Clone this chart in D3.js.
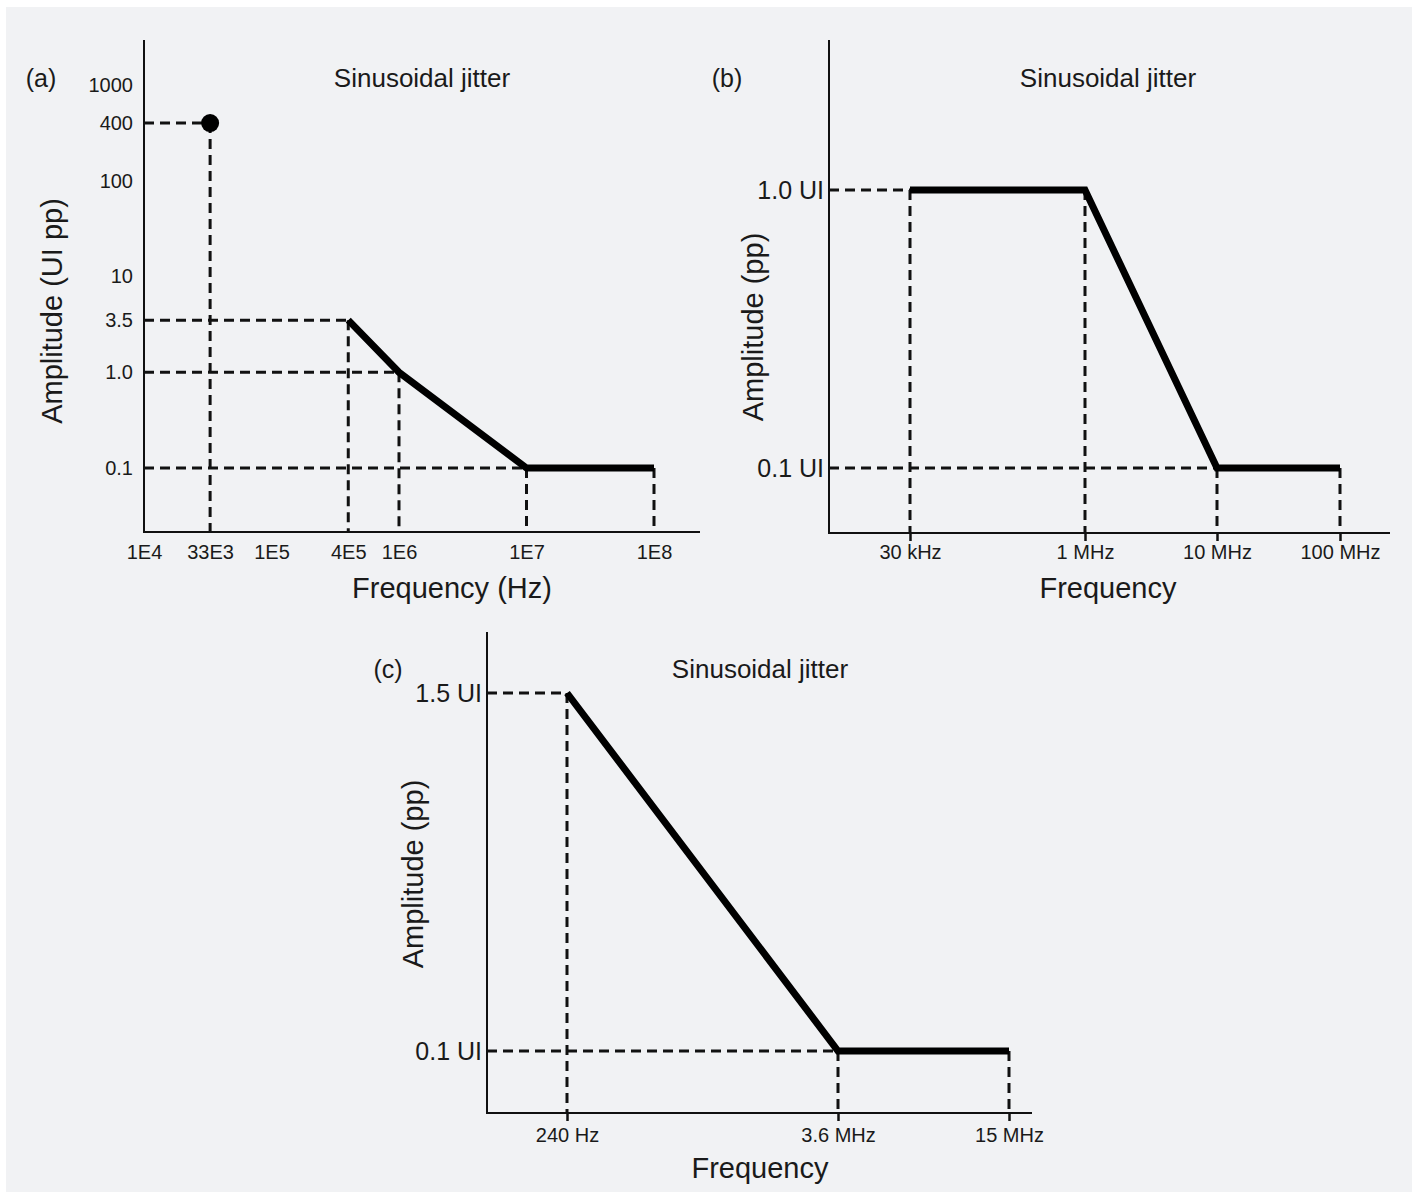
<!doctype html>
<html lang="en">

<head>
    <meta charset="utf-8">
    <title>Sinusoidal jitter</title>
    <style>
        body {
            margin: 0;
            background-color: #fff;
        }

        svg {
            display: block;
            font-family: 'Liberation Sans', Arial, sans-serif;
        }
    </style>
</head>

<body>
    <svg id="chart" width="1412" height="1192"></svg>
    <script src="https://cdn.jsdelivr.net/npm/d3@7"></script>
    <script>

        // (a) amplitude in UI pp vs frequency in Hz
        var aFreqTicks = [1e4, 3.3e4, 1e5, 4e5, 1e6, 1e7, 1e8];
        var aFreqLabels = ["1E4", "33E3", "1E5", "4E5", "1E6", "1E7", "1E8"];
        var aAmpTicks = [1000, 400, 100, 10, 3.5, 1.0, 0.1];
        var aAmpLabels = ["1000", "400", "100", "10", "3.5", "1.0", "0.1"];
        var aMaskFreq = [4e5, 1e6, 1e7, 1e8];
        var aMaskAmp = [3.5, 1.0, 0.1, 0.1];
        var aPointFreq = [3.3e4];
        var aPointAmp = [400];

        // (b)
        var bFreqTicks = [3e4, 1e6, 1e7, 1e8];
        var bFreqLabels = ["30 kHz", "1 MHz", "10 MHz", "100 MHz"];
        var bAmpTicks = [1.0, 0.1];
        var bAmpLabels = ["1.0 UI", "0.1 UI"];
        var bMaskFreq = [3e4, 1e6, 1e7, 1e8];
        var bMaskAmp = [1.0, 1.0, 0.1, 0.1];

        // (c)
        var cFreqTicks = [240, 3.6e6, 15e6];
        var cFreqLabels = ["240 Hz", "3.6 MHz", "15 MHz"];
        var cAmpTicks = [1.5, 0.1];
        var cAmpLabels = ["1.5 UI", "0.1 UI"];
        var cMaskFreq = [240, 3.6e6, 15e6];
        var cMaskAmp = [1.5, 0.1, 0.1];

        var ink = "#111";
        var textColor = "#1a1a1a";
        var dash = "10,6";

        var svg = d3.select("#chart");

        svg.append("rect")
            .attr("x", 6)
            .attr("y", 7)
            .attr("width", 1412)
            .attr("height", 1192)
            .attr("fill", "#f1f2f4");

        function guide(g, x1, y1, x2, y2) {
            g.append("line")
                .attr("x1", x1).attr("y1", y1)
                .attr("x2", x2).attr("y2", y2)
                .attr("stroke", ink).attr("stroke-width", 3)
                .attr("stroke-dasharray", dash);
        }

        function drawPanel(p) {
            var g = svg.append("g");

            // dashed guides
            var seen = {};
            p.maskFreq.forEach(function (f, i) {
                var a = p.maskAmp[i];
                if (!seen[a]) {
                    seen[a] = true;
                    guide(g, p.left, p.y(a), p.x(f), p.y(a));
                }
                guide(g, p.x(f), p.y(a), p.x(f), p.bottom);
            });

            if (p.pointFreq) {
                p.pointFreq.forEach(function (f, i) {
                    var a = p.pointAmp[i];
                    guide(g, p.left, p.y(a), p.x(f), p.y(a));
                    guide(g, p.x(f), p.y(a), p.x(f), p.bottom);
                    g.append("circle")
                        .attr("cx", p.x(f)).attr("cy", p.y(a))
                        .attr("r", 9)
                        .attr("fill", "#000");
                });
            }

            // mask line
            var pts = p.maskFreq.map(function (f, i) { return [f, p.maskAmp[i]]; });
            var line = d3.line()
                .x(function (d) { return p.x(d[0]); })
                .y(function (d) { return p.y(d[1]); });
            g.append("path")
                .datum(pts)
                .attr("fill", "none")
                .attr("stroke", "#000")
                .attr("stroke-width", 7)
                .attr("stroke-linejoin", "miter")
                .attr("d", line);

            // axes
            g.append("line")
                .attr("x1", p.left).attr("x2", p.left)
                .attr("y1", p.top).attr("y2", p.bottom)
                .attr("stroke", ink).attr("stroke-width", 2);
            g.append("line")
                .attr("x1", p.left - 1).attr("x2", p.right)
                .attr("y1", p.bottom).attr("y2", p.bottom)
                .attr("stroke", ink).attr("stroke-width", 2);

            var xAxis = g.append("g")
                .attr("transform", "translate(0," + p.bottom + ")")
                .call(d3.axisBottom(p.x)
                    .tickValues(p.freqTicks)
                    .tickFormat(function (d, i) { return p.freqLabels[i]; })
                    .tickSize(p.tickLen)
                    .tickPadding(p.xPad));
            xAxis.select(".domain").remove();
            xAxis.attr("font-size", p.xFont).attr("font-family", null);
            xAxis.selectAll("line").attr("stroke", ink).attr("stroke-width", 2.5);
            xAxis.selectAll("text").attr("fill", textColor);

            var yAxis = g.append("g")
                .attr("transform", "translate(" + p.left + ",0)")
                .call(d3.axisLeft(p.y)
                    .tickValues(p.ampTicks)
                    .tickFormat(function (d, i) { return p.ampLabels[i]; })
                    .tickSize(0)
                    .tickPadding(p.yPad));
            yAxis.select(".domain").remove();
            yAxis.attr("font-size", p.yFont).attr("font-family", null);
            yAxis.selectAll("text").attr("fill", textColor);

            // texts
            g.append("text")
                .attr("x", p.titleX).attr("y", p.titleY)
                .attr("text-anchor", "middle")
                .attr("font-size", 26)
                .attr("fill", textColor)
                .text("Sinusoidal jitter");
            g.append("text")
                .attr("x", p.tagX).attr("y", p.titleY)
                .attr("text-anchor", "middle")
                .attr("font-size", 25)
                .attr("fill", textColor)
                .text(p.tag);
            g.append("text")
                .attr("transform", "translate(" + p.yTitleX + "," + p.yTitleY + ") rotate(-90)")
                .attr("text-anchor", "middle")
                .attr("font-size", 29)
                .attr("fill", textColor)
                .text(p.yTitle);
            g.append("text")
                .attr("x", p.xTitleX).attr("y", p.xTitleY)
                .attr("text-anchor", "middle")
                .attr("font-size", 29)
                .attr("fill", textColor)
                .text(p.xTitle);
        }

        drawPanel({
            left: 144, right: 700, top: 40, bottom: 532,
            x: d3.scaleLog().domain([1e4, 1e8]).range([144, 654]),
            y: d3.scaleLog().domain([0.1, 1000]).range([468, 85]),
            freqTicks: aFreqTicks, freqLabels: aFreqLabels,
            ampTicks: aAmpTicks, ampLabels: aAmpLabels,
            maskFreq: aMaskFreq, maskAmp: aMaskAmp,
            pointFreq: aPointFreq, pointAmp: aPointAmp,
            tickLen: 0, xPad: 13, xFont: 20, yPad: 11, yFont: 20,
            tag: "(a)", tagX: 41, titleX: 422, titleY: 87,
            yTitle: "Amplitude (UI pp)", yTitleX: 62, yTitleY: 311,
            xTitle: "Frequency (Hz)", xTitleX: 452, xTitleY: 598
        });

        drawPanel({
            left: 829, right: 1390, top: 40, bottom: 533,
            x: d3.scaleLog().domain(bFreqTicks).range([910, 1085, 1217, 1340]),
            y: d3.scaleLog().domain([0.1, 1]).range([468, 190]),
            freqTicks: bFreqTicks, freqLabels: bFreqLabels,
            ampTicks: bAmpTicks, ampLabels: bAmpLabels,
            maskFreq: bMaskFreq, maskAmp: bMaskAmp,
            tickLen: 8, xPad: 4, xFont: 20, yPad: 5, yFont: 25,
            tag: "(b)", tagX: 727, titleX: 1108, titleY: 87,
            yTitle: "Amplitude (pp)", yTitleX: 763, yTitleY: 327,
            xTitle: "Frequency", xTitleX: 1108, xTitleY: 598
        });

        drawPanel({
            left: 487, right: 1032, top: 632, bottom: 1113,
            x: d3.scaleLog().domain(cFreqTicks).range([567, 838, 1009]),
            y: d3.scaleLinear().domain([0.1, 1.5]).range([1051, 693]),
            freqTicks: cFreqTicks, freqLabels: cFreqLabels,
            ampTicks: cAmpTicks, ampLabels: cAmpLabels,
            maskFreq: cMaskFreq, maskAmp: cMaskAmp,
            tickLen: 8, xPad: 7, xFont: 20, yPad: 5, yFont: 25,
            tag: "(c)", tagX: 388, titleX: 760, titleY: 678,
            yTitle: "Amplitude (pp)", yTitleX: 423, yTitleY: 874,
            xTitle: "Frequency", xTitleX: 760, xTitleY: 1178
        });
    </script>
</body>

</html>
